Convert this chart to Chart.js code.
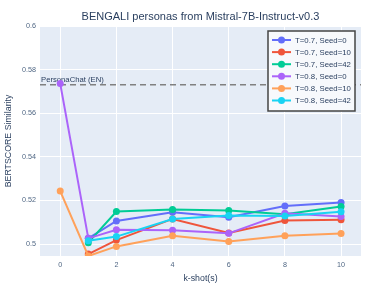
<!DOCTYPE html>
<html>
<head>
<meta charset="utf-8">
<script src="https://cdn.jsdelivr.net/npm/chart.js@4"></script>
<style>
  html, body { margin: 0; padding: 0; background: #fff; }
  #wrap { width: 387px; height: 291px; }
</style>
</head>
<body>
<div id="wrap"><canvas id="chart" width="387" height="291"></canvas></div>
<script>
// k-shot values on the x axis
var kShots = [0, 1, 2, 4, 6, 8, 10];

// BERTSCORE similarity per run (null = not run)
var t07s0  = [null, 0.5026, 0.5106, 0.5146, 0.5123, 0.5174, 0.5190];
var t07s10 = [null, 0.4954, 0.5018, 0.5115, 0.5051, 0.5108, 0.5111];
var t07s42 = [null, 0.5006, 0.5149, 0.5158, 0.5154, 0.5137, 0.5172];
var t08s0  = [0.5736, 0.5026, 0.5065, 0.5063, 0.5049, 0.5141, 0.5126];
var t08s10 = [0.5243, 0.4945, 0.4989, 0.5038, 0.5011, 0.5038, 0.5048];
var t08s42 = [null, 0.5015, 0.5034, 0.5115, 0.5131, 0.5129, 0.5148];

var seriesNames = ['T=0.7, Seed=0', 'T=0.7, Seed=10', 'T=0.7, Seed=42',
                   'T=0.8, Seed=0', 'T=0.8, Seed=10', 'T=0.8, Seed=42'];
var seriesValues = [t07s0, t07s10, t07s42, t08s0, t08s10, t08s42];
var colors = ['#636efa', '#EF553B', '#00cc96', '#ab63fa', '#FFA15A', '#19d3f3'];

var xTicks = [0, 2, 4, 6, 8, 10];
var yTicks = [0.5, 0.52, 0.54, 0.56, 0.58, 0.6];

var baseline = 0.573;
var baselineLabel = 'PersonaChat (EN)';
var titleText = 'BENGALI personas from Mistral-7B-Instruct-v0.3';

var fontFam = '"Liberation Sans", Arial, sans-serif';
var textColor = '#2a3f5f';
var tickColor = '#506784';

var datasets = seriesValues.map(function (vals, i) {
    return {
        label: seriesNames[i],
        data: kShots.map(function (k, j) { return { x: k, y: vals[j] }; }),
        borderColor: colors[i],
        backgroundColor: colors[i],
        borderWidth: 2,
        pointRadius: 3.5,
        pointBorderWidth: 0,
        tension: 0,
        order: seriesValues.length - i
    };
});

// background, baseline, titles and legend drawn by hand to match the plotly look
var decor = {
    id: 'decor',
    beforeDraw: function (chart) {
        var a = chart.chartArea, c = chart.ctx;
        c.save();
        c.fillStyle = '#e5ecf6';
        c.fillRect(a.left, a.top, a.right - a.left, a.bottom - a.top);
        c.restore();
    },
    beforeDatasetsDraw: function (chart) {
        var a = chart.chartArea, c = chart.ctx;
        var y = chart.scales.y.getPixelForValue(baseline);
        c.save();
        c.strokeStyle = '#808080';
        c.lineWidth = 1.5;
        c.setLineDash([6, 4]);
        c.beginPath();
        c.moveTo(a.left, y);
        c.lineTo(a.right, y);
        c.stroke();
        c.setLineDash([]);
        c.fillStyle = textColor;
        c.font = '7.7px ' + fontFam;
        c.textBaseline = 'bottom';
        c.fillText(baselineLabel, a.left + 1, y - 1);
        c.restore();
    },
    afterDraw: function (chart) {
        var a = chart.chartArea, c = chart.ctx;
        c.save();
        // title
        c.fillStyle = textColor;
        c.font = '11px ' + fontFam;
        c.textAlign = 'center';
        c.textBaseline = 'middle';
        c.fillText(titleText, (a.left + a.right) / 2, 17);
        // axis titles
        c.font = '8.8px ' + fontFam;
        c.fillText('k-shot(s)', (a.left + a.right) / 2, 279);
        c.translate(9, (a.top + a.bottom) / 2);
        c.rotate(-Math.PI / 2);
        c.fillText('BERTSCORE Similarity', 0, 0);
        c.restore();

        // legend box
        c.save();
        var lx = 268, ly = 31, lw = 87, lh = 80;
        c.fillStyle = '#f7f9fc';
        c.fillRect(lx, ly, lw, lh);
        c.strokeStyle = '#444444';
        c.lineWidth = 1.5;
        c.strokeRect(lx, ly, lw, lh);
        c.font = '7.8px ' + fontFam;
        c.textBaseline = 'middle';
        c.textAlign = 'left';
        for (var i = 0; i < seriesNames.length; i++) {
            var yy = ly + 9 + i * 12.1;
            c.strokeStyle = colors[i];
            c.lineWidth = 2;
            c.beginPath();
            c.moveTo(lx + 4, yy);
            c.lineTo(lx + 23, yy);
            c.stroke();
            c.fillStyle = colors[i];
            c.beginPath();
            c.arc(lx + 13.5, yy, 3.5, 0, Math.PI * 2);
            c.fill();
            c.fillStyle = textColor;
            c.fillText(seriesNames[i], lx + 27, yy + 0.5);
        }
        c.restore();
    }
};

var ctx = document.getElementById('chart').getContext('2d');
var chart = new Chart(ctx, {
    type: 'line',
    data: { datasets: datasets },
    options: {
        responsive: false,
        animation: false,
        layout: { padding: { left: 0, right: 26, top: 26, bottom: 0 } },
        plugins: {
            legend: { display: false },
            title: { display: false },
            tooltip: { enabled: false }
        },
        scales: {
            x: {
                type: 'linear',
                min: -0.72,
                max: 10.71,
                afterBuildTicks: function (s) { s.ticks = xTicks.map(function (v) { return { value: v }; }); },
                afterFit: function (s) { s.height = 35; },
                grid: { color: '#ffffff', lineWidth: 1, drawTicks: false },
                border: { display: false },
                ticks: { color: tickColor, font: { size: 7.2, family: fontFam }, padding: 5, maxRotation: 0 }
            },
            y: {
                type: 'linear',
                min: 0.4945,
                max: 0.6,
                afterBuildTicks: function (s) { s.ticks = yTicks.map(function (v) { return { value: v }; }); },
                afterFit: function (s) { s.width = 40; },
                grid: { color: '#ffffff', lineWidth: 1, drawTicks: false },
                border: { display: false },
                ticks: {
                    color: tickColor, font: { size: 7.2, family: fontFam }, padding: 4,
                    callback: function (v) { return String(Math.round(v * 100) / 100); }
                }
            }
        }
    },
    plugins: [decor]
});
</script>
</body>
</html>
